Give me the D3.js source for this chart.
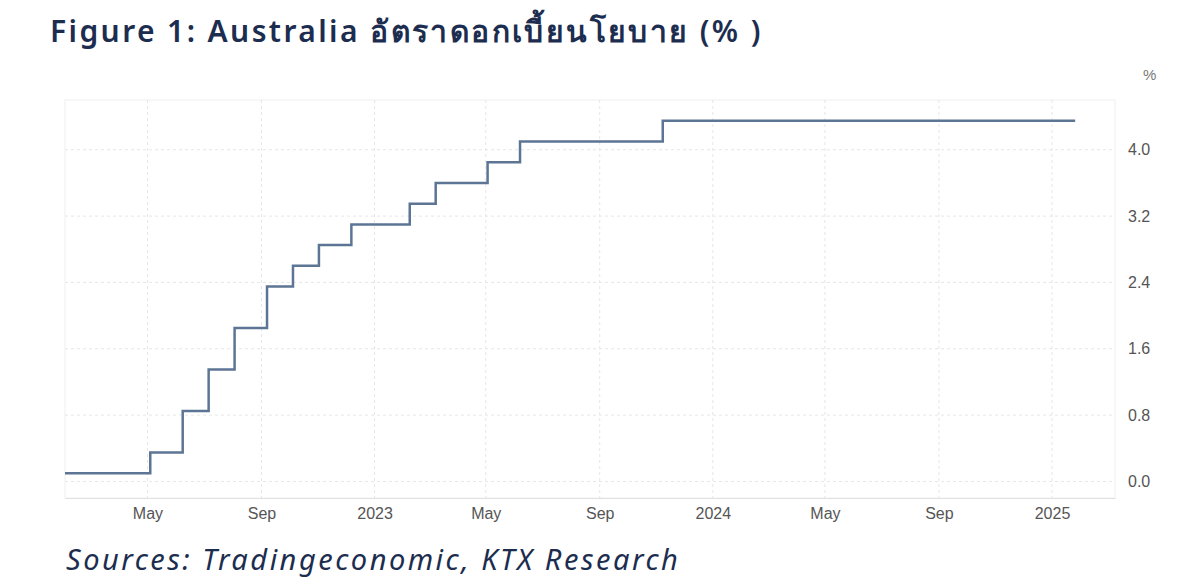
<!DOCTYPE html>
<html><head><meta charset="utf-8">
<script src="https://cdn.jsdelivr.net/npm/d3@7"></script>
<style>body{margin:0;background:#fff;}</style>
</head><body>
<svg id="c" width="1200" height="581"></svg>
<script>
const stepDates = ["2022-02-01","2022-05-04","2022-06-08","2022-07-06","2022-08-03","2022-09-07","2022-10-05","2022-11-02","2022-12-07","2023-02-08","2023-03-08","2023-05-03","2023-06-07","2023-11-08","2025-01-26"];
const rates = [0.10,0.35,0.85,1.35,1.85,2.35,2.60,2.85,3.10,3.35,3.60,3.85,4.10,4.35,4.35];
const yTicks = [0,0.8,1.6,2.4,3.2,4.0];
const xTickDates = ["2022-05-01","2022-09-01","2023-01-01","2023-05-01","2023-09-01","2024-01-01","2024-05-01","2024-09-01","2025-01-01"];
const xTickLabels = ["May","Sep","2023","May","Sep","2024","May","Sep","2025"];

const svg = d3.select("#c");
const p = d3.timeParse("%Y-%m-%d");
const L=65,R=1115,T=100,B=498;
const x = d3.scaleTime().domain([p("2022-02-01"), p("2025-03-10")]).range([L,R]);
const y = d3.scaleLinear().domain([-0.2,4.6]).range([B,T]);

svg.append("text").attr("x",50).attr("y",42).attr("fill","#1c2d4f")
  .attr("font-family","Noto Sans, sans-serif").attr("font-weight","600").attr("font-size",30)
  .attr("letter-spacing","2.4")
  .text("Figure 1: Australia อัตราดอกเบี้ยนโยบาย  (% )");

svg.append("rect").attr("x",L).attr("y",T).attr("width",R-L).attr("height",B-T)
  .attr("fill","none").attr("stroke","#f0f0f0");
const g = svg.append("g");
xTickDates.forEach(d=>{
  g.append("line").attr("x1",x(p(d))).attr("x2",x(p(d))).attr("y1",T).attr("y2",B)
   .attr("stroke","#e6e6e6").attr("stroke-dasharray","3,3");
});
yTicks.forEach(v=>{
  g.append("line").attr("x1",L).attr("x2",R).attr("y1",y(v)).attr("y2",y(v))
   .attr("stroke","#e6e6e6").attr("stroke-dasharray","3,3");
});
const xa = svg.append("g").attr("transform",`translate(0,${B})`)
  .call(d3.axisBottom(x).tickValues(xTickDates.map(p)).tickFormat((d,i)=>xTickLabels[i]).tickSize(0).tickPadding(10));
xa.select(".domain").attr("stroke","#e0e0e0");
xa.selectAll("text").attr("font-family","Liberation Sans, Arial").attr("font-size",16).attr("fill","#555");
const ya = svg.append("g").attr("transform",`translate(${R+10},0)`)
  .call(d3.axisRight(y).tickValues(yTicks).tickFormat(d3.format(".1f")).tickSize(0).tickPadding(3));
ya.select(".domain").remove();
ya.selectAll("text").attr("font-family","Liberation Sans, Arial").attr("font-size",16).attr("fill","#555");
svg.append("text").attr("x",1143).attr("y",80).attr("font-family","Liberation Sans, Arial").attr("font-size",15).attr("fill","#777").text("%");

const data = stepDates.map((d,i)=>({d:p(d),v:rates[i]}));
svg.append("path").datum(data)
  .attr("d",d3.line().x(d=>x(d.d)).y(d=>y(d.v)).curve(d3.curveStepAfter))
  .attr("fill","none").attr("stroke","#5d7594").attr("stroke-width",2.5);

svg.append("text").attr("x",66).attr("y",570).attr("fill","#1c2d4f")
  .attr("font-family","Noto Sans, sans-serif").attr("font-style","italic").attr("font-size",29)
  .attr("letter-spacing","2.5")
  .text("Sources: Tradingeconomic, KTX Research");
</script>
</body></html>
